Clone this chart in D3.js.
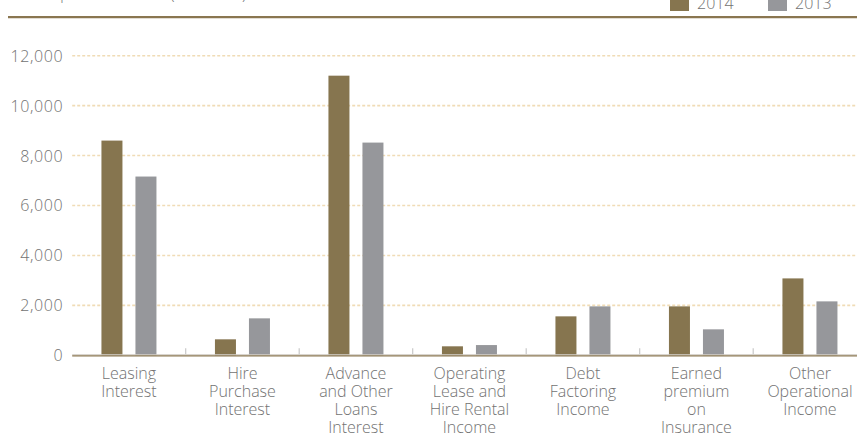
<!DOCTYPE html>
<html>
<head>
<meta charset="utf-8">
<script src="https://cdn.jsdelivr.net/npm/d3@7/dist/d3.min.js"></script>
<style>
  html, body { margin: 0; padding: 0; background: #fff; }
  svg { display: block; }
  text { font-family: "Open Sans", "Noto Sans", sans-serif; font-weight: 300; fill: #727272; }
</style>
</head>
<body>
<svg id="chart" width="857" height="434"></svg>
<script>
// Income composition by category, Rs. Million
const categories = [
  ["Leasing", "Interest"],
  ["Hire", "Purchase", "Interest"],
  ["Advance", "and Other", "Loans", "Interest"],
  ["Operating", "Lease and", "Hire Rental", "Income"],
  ["Debt", "Factoring", "Income"],
  ["Earned", "premium", "on", "Insurance"],
  ["Other", "Operational", "Income"]
];
const seriesNames = ["2014", "2013"];
const values2014 = [8600, 640, 11200, 360, 1560, 1960, 3080];
const values2013 = [7160, 1480, 8520, 410, 1960, 1040, 2160];
const yTicks = [0, 2000, 4000, 6000, 8000, 10000, 12000];
const colors = ["#86754f", "#96979b"];

const svg = d3.select("#chart");
const left = 72.2, step = 113.5;
const x0 = d3.scaleBand()
  .domain(d3.range(categories.length))
  .range([left, left + step * categories.length])
  .padding(0);
const x1 = d3.scaleBand()
  .domain(seriesNames)
  .range([0, x0.bandwidth()])
  .paddingInner(13 / 34)
  .paddingOuter(0.86);
const y = d3.scaleLinear().domain([0, 12000]).range([355.3, 55.7]);

// header title (runs off the top edge) and rule
svg.append("text")
  .attr("x", 26).attr("y", -0.5)
  .style("font-size", "15px")
  .text("Group Gross Income (Rs. Million)");
svg.append("line")
  .attr("x1", 8).attr("x2", 857)
  .attr("y1", 17.2).attr("y2", 17.2)
  .attr("stroke", "#8a7650").attr("stroke-width", 2.2);

// legend
const legendX = [670, 768];
seriesNames.forEach((s, i) => {
  svg.append("rect")
    .attr("x", legendX[i]).attr("y", -8)
    .attr("width", 19).attr("height", 19)
    .attr("fill", colors[i]);
  svg.append("text")
    .attr("x", legendX[i] + 27).attr("y", 9)
    .style("font-size", "16px")
    .text(s);
});

// horizontal dotted grid lines
svg.append("g").selectAll("line")
  .data(yTicks.filter(d => d > 0))
  .join("line")
  .attr("x1", left).attr("x2", 857)
  .attr("y1", d => y(d)).attr("y2", d => y(d))
  .attr("stroke", "#f0dcb6").attr("stroke-width", 1.6)
  .attr("stroke-dasharray", "3,2");

// y axis labels
const yAxis = d3.axisLeft(y)
  .tickValues(yTicks)
  .tickFormat(d3.format(","))
  .tickSize(0)
  .tickPadding(0);
const gy = svg.append("g").attr("transform", `translate(${left - 9},0)`).call(yAxis);
gy.select(".domain").remove();
gy.selectAll("text")
  .attr("dy", "0.34em")
  .style("font-size", "16px")
  .style("letter-spacing", "0.6px")
  .style("font-family", "\"Open Sans\", \"Noto Sans\", sans-serif")
  .attr("fill", "#727272");

// bars
const rows = categories.map((c, i) => ({ i, vals: [values2014[i], values2013[i]] }));
const groups = svg.append("g").selectAll("g")
  .data(rows)
  .join("g")
  .attr("transform", d => `translate(${x0(d.i)},0)`);
groups.selectAll("rect")
  .data(d => d.vals.map((v, k) => ({ key: seriesNames[k], v, k })))
  .join("rect")
  .attr("x", d => x1(d.key))
  .attr("width", x1.bandwidth())
  .attr("y", d => y(d.v))
  .attr("height", d => y(0) - y(d.v))
  .attr("fill", d => colors[d.k]);

// baseline
svg.append("line")
  .attr("x1", left).attr("x2", 857)
  .attr("y1", y(0) - 0.6).attr("y2", y(0) - 0.6)
  .attr("stroke", "#d0ccc4").attr("stroke-width", 1);
svg.append("line")
  .attr("x1", left).attr("x2", 857)
  .attr("y1", y(0) + 0.6).attr("y2", y(0) + 0.6)
  .attr("stroke", "#8a7650").attr("stroke-width", 1.4);

// category separators
svg.append("g").selectAll("line")
  .data(d3.range(1, categories.length))
  .join("line")
  .attr("x1", d => x0(d)).attr("x2", d => x0(d))
  .attr("y1", y(0) - 7).attr("y2", y(0) - 1)
  .attr("stroke", "#c8c8c8").attr("stroke-width", 1.2);

// category labels
const labels = svg.append("g").selectAll("text")
  .data(rows)
  .join("text")
  .attr("text-anchor", "middle")
  .style("font-size", "16px")
  .attr("transform", d => `translate(${x0(d.i) + x0.bandwidth() / 2},379)`);
labels.selectAll("tspan")
  .data(d => categories[d.i])
  .join("tspan")
  .attr("x", 0)
  .attr("y", (d, k) => k * 18)
  .text(d => d);
</script>
</body>
</html>
